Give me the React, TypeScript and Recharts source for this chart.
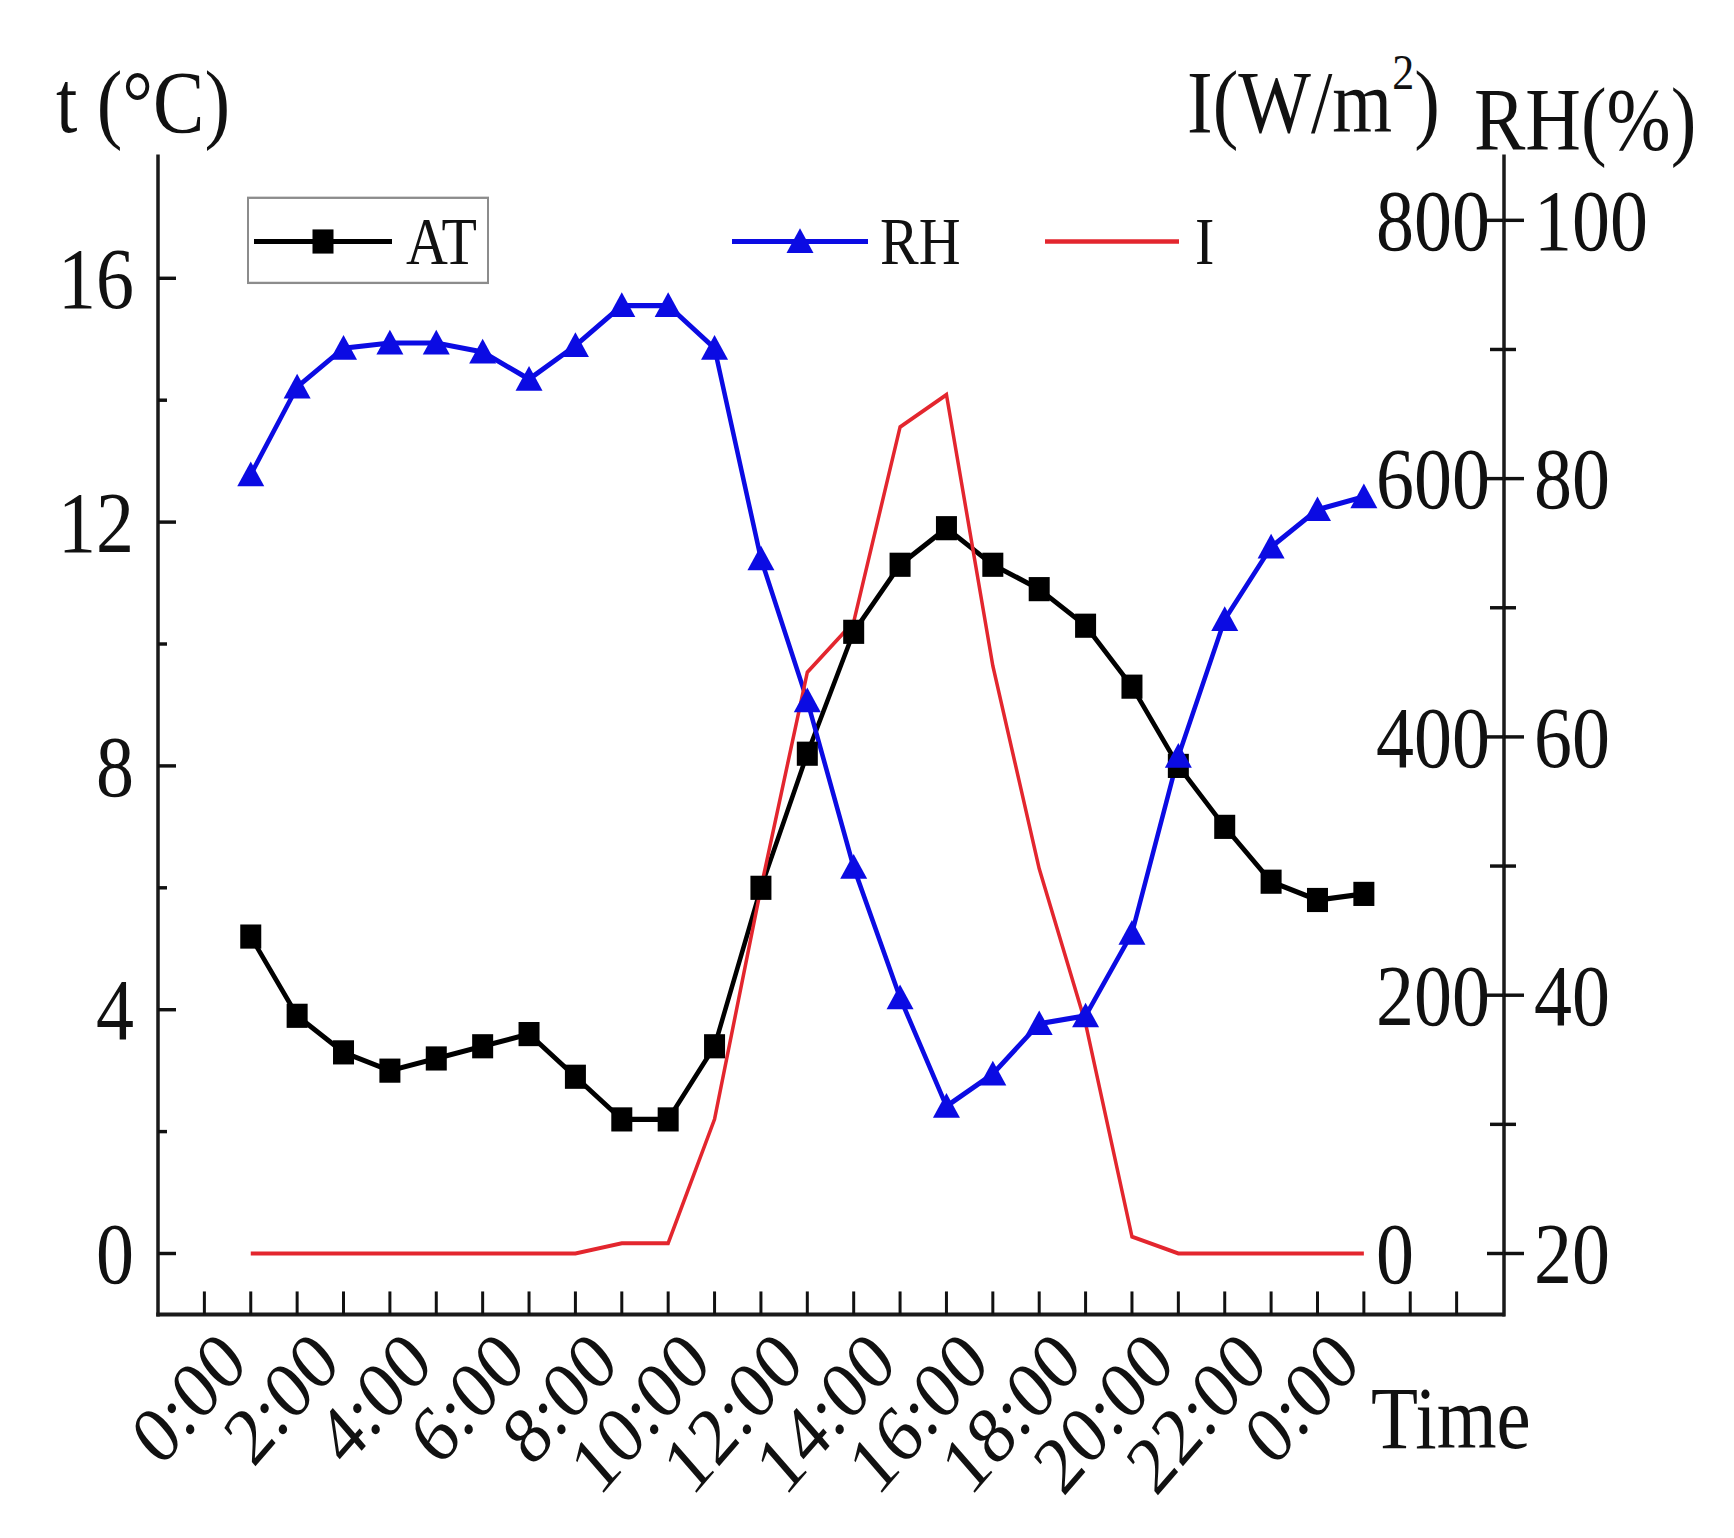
import React from 'react';
import { LineChart, Line, XAxis, YAxis, Legend, Label } from 'recharts';

// hourly readings, 0:00 -> next day 0:00
const HOURS = [0, 1, 2, 3, 4, 5, 6, 7, 8, 9, 10, 11, 12, 13, 14, 15, 16, 17, 18, 19, 20, 21, 22, 23, 24];
const AT = [5.2, 3.9, 3.3, 3.0, 3.2, 3.4, 3.6, 2.9, 2.2, 2.2, 3.4, 6.0, 8.2, 10.2, 11.3, 11.9, 11.3, 10.9, 10.3, 9.3, 8.0, 7.0, 6.1, 5.8, 5.9];
const RH = [80.3, 87.1, 90.1, 90.5, 90.5, 89.8, 87.7, 90.3, 93.4, 93.4, 90.1, 73.8, 62.8, 49.9, 39.8, 31.4, 33.9, 37.8, 38.4, 44.8, 58.5, 69.1, 74.7, 77.6, 78.6];
const IRR = [0, 0, 0, 0, 0, 0, 0, 0, 8, 8, 104, 283, 450, 489, 640, 665, 455, 298, 178, 13, 0, 0, 0, 0, 0];

const X_TICKS = [-1, 0, 1, 2, 3, 4, 5, 6, 7, 8, 9, 10, 11, 12, 13, 14, 15, 16, 17, 18, 19, 20, 21, 22, 23, 24, 25, 26];
const TIME_LABEL_HOURS = [0, 2, 4, 6, 8, 10, 12, 14, 16, 18, 20, 22, 24];
const TIME_LABELS = ['0:00', '2:00', '4:00', '6:00', '8:00', '10:00', '12:00', '14:00', '16:00', '18:00', '20:00', '22:00', '0:00'];

const T_TICKS = [0, 2, 4, 6, 8, 10, 12, 14, 16];
const T_LABELED = [0, 4, 8, 12, 16];
const I_TICKS = [0, 100, 200, 300, 400, 500, 600, 700, 800];
const I_LABELED = [0, 200, 400, 600, 800];
const RH_TICKS = [20, 30, 40, 50, 60, 70, 80, 90, 100];
const RH_LABELED = [20, 40, 60, 80, 100];

const rows = HOURS.map((h, i) => ({ hour: h, at: AT[i], rh: RH[i], irr: IRR[i] }));

const FONT = '"Liberation Serif", "Times New Roman", serif';
const INK = '#111';
const BLUE = '#0b0be3';
const RED = '#e3262e';
const STRETCH = 1.15; // the figure is a bit taller than wide

const axisLine = { stroke: '#1a1a1a', strokeWidth: 3.5, strokeLinecap: 'square' as const };

function TTick(props: any) {
  const { x, y, payload } = props;
  const v = payload.value;
  const major = T_LABELED.includes(v);
  return (
    <g>
      <line x1={x} y1={y} x2={x + (major ? 18 : 9)} y2={y} stroke={INK} strokeWidth={3} />
      {major && (
        <text x={x - 24} y={y} dy="0.34em" textAnchor="end" fontSize={76} fontFamily={FONT} fill={INK}>
          {v}
        </text>
      )}
    </g>
  );
}

function ITick(props: any) {
  const { x, y, payload } = props;
  const v = payload.value;
  const major = I_LABELED.includes(v);
  return (
    <g>
      <line x1={x - (major ? 16 : 13)} y1={y} x2={x} y2={y} stroke={INK} strokeWidth={3} />
      {major && (
        <text x={x - 127} y={y} dy="0.34em" textAnchor="start" fontSize={76} fontFamily={FONT} fill={INK}>
          {v}
        </text>
      )}
    </g>
  );
}

function RHTick(props: any) {
  const { x, y, payload } = props;
  const v = payload.value;
  const major = RH_LABELED.includes(v);
  return (
    <g>
      <line x1={x} y1={y} x2={x + (major ? 20 : 12)} y2={y} stroke={INK} strokeWidth={3} />
      {major && (
        <text x={x + 30} y={y} dy="0.34em" textAnchor="start" fontSize={76} fontFamily={FONT} fill={INK}>
          {v}
        </text>
      )}
    </g>
  );
}

function XTick(props: any) {
  const { x, y, payload } = props;
  const idx = TIME_LABEL_HOURS.indexOf(payload.value);
  return (
    <g>
      <line x1={x} y1={y} x2={x} y2={y - 20} stroke={INK} strokeWidth={3} />
      {idx >= 0 && (
        <text
          transform={`translate(${x - 1},${y + 45}) rotate(-45)`}
          textAnchor="end"
          fontSize={71}
          fontFamily={FONT}
          fill={INK}
        >
          {TIME_LABELS[idx]}
        </text>
      )}
    </g>
  );
}

const squareDot = (props: any) => {
  const { cx, cy, index } = props;
  return <rect key={`sq-${index}`} x={cx - 10.5} y={cy - 10.5} width={21} height={21} fill="#000" />;
};

const triangleDot = (props: any) => {
  const { cx, cy, index } = props;
  return (
    <polygon
      key={`tri-${index}`}
      points={`${cx},${cy - 11.5} ${cx - 13.5},${cy + 10} ${cx + 13.5},${cy + 10}`}
      fill={BLUE}
    />
  );
};

// where each legend entry sits
const LEGEND_SLOTS: Record<string, { x0: number; x1: number; tx: number }> = {
  at: { x0: 254, x1: 392, tx: 406 },
  rh: { x0: 732, x1: 868, tx: 880 },
  irr: { x0: 1045, x1: 1179, tx: 1195 },
};
const LEGEND_Y = 210;

function renderLegend(props: any) {
  const items = props.payload || [];
  return (
    <svg width={1734} height={300} style={{ display: 'block' }}>
      <rect x={248} y={172} width={240} height={74} fill="none" stroke="#8c8c8c" strokeWidth={2} />
      {items.map((entry: any) => {
        const slot = LEGEND_SLOTS[entry.dataKey];
        if (!slot) return null;
        const mid = (slot.x0 + slot.x1) / 2;
        return (
          <g key={entry.dataKey}>
            <line x1={slot.x0} y1={LEGEND_Y} x2={slot.x1} y2={LEGEND_Y} stroke={entry.color} strokeWidth={entry.type === 'line' ? 4 : 4.5} />
            {entry.type === 'square' && <rect x={mid - 10.5} y={LEGEND_Y - 10.5} width={21} height={21} fill={entry.color} />}
            {entry.type === 'triangle' && (
              <polygon
                points={`${mid},${LEGEND_Y - 11.5} ${mid - 13.5},${LEGEND_Y + 10} ${mid + 13.5},${LEGEND_Y + 10}`}
                fill={entry.color}
              />
            )}
            <text x={slot.tx} y={LEGEND_Y} dy="0.34em" fontSize={58} fontFamily={FONT} fill={INK}>
              {entry.value}
            </text>
          </g>
        );
      })}
    </svg>
  );
}

export default function App() {
  return (
    <div
      style={{
        position: 'absolute',
        left: 0,
        top: 0,
        width: 1734,
        height: 1337,
        background: '#fff',
        fontFamily: FONT,
        transform: `scaleY(${STRETCH})`,
        transformOrigin: '0 0',
      }}
    >
      <LineChart width={1734} height={1337} data={rows} margin={{ top: 136, right: 0, bottom: 0, left: 0 }}>
        <XAxis
          xAxisId="b"
          dataKey="hour"
          type="number"
          domain={[-2, 27]}
          ticks={X_TICKS}
          interval={0}
          allowDataOverflow
          height={194}
          tickSize={0}
          tickMargin={0}
          tickLine={false}
          axisLine={axisLine}
          tick={(p: any) => <XTick {...p} />}
        >
          <Label
            content={() => (
              <text x={1371} y={1259} fontSize={77} fontFamily={FONT} fill={INK}>
                Time
              </text>
            )}
          />
        </XAxis>
        <XAxis
          xAxisId="top"
          orientation="top"
          type="number"
          domain={[-2, 27]}
          height={0}
          tick={false}
          tickLine={false}
          axisLine={axisLine}
        />
        <YAxis
          yAxisId="t"
          type="number"
          domain={[-1, 18]}
          ticks={T_TICKS}
          interval={0}
          allowDataOverflow
          width={158}
          tickSize={0}
          tickMargin={0}
          tickLine={false}
          axisLine={axisLine}
          tick={(p: any) => <TTick {...p} />}
        >
          <Label
            content={() => (
              <text x={56} y={115} fontSize={77} fontFamily={FONT} fill={INK}>
                t (°C)
              </text>
            )}
          />
        </YAxis>
        <YAxis
          yAxisId="i"
          orientation="right"
          type="number"
          domain={[-47.2, 849.5]}
          ticks={I_TICKS}
          interval={0}
          allowDataOverflow
          width={1}
          tickSize={0}
          tickMargin={0}
          tickLine={false}
          axisLine={false}
          tick={(p: any) => <ITick {...p} />}
        >
          <Label
            content={() => (
              <text x={1187} y={115} fontSize={77} fontFamily={FONT} fill={INK}>
                I(W/m
                <tspan fontSize={44} dy={-38}>2</tspan>
                <tspan dy={38}>)</tspan>
              </text>
            )}
          />
        </YAxis>
        <YAxis
          yAxisId="rh"
          orientation="right"
          type="number"
          domain={[15.28, 104.95]}
          ticks={RH_TICKS}
          interval={0}
          allowDataOverflow
          width={230}
          tickSize={0}
          tickMargin={0}
          tickLine={false}
          axisLine={axisLine}
          tick={(p: any) => <RHTick {...p} />}
        >
          <Label
            content={() => (
              <text x={1474} y={130} fontSize={77} fontFamily={FONT} fill={INK}>
                RH(%)
              </text>
            )}
          />
        </YAxis>
        <Legend
          layout="horizontal"
          verticalAlign="middle"
          align="center"
          content={renderLegend}
          wrapperStyle={{ position: 'absolute', left: 0, top: 0, width: 1734, height: 300 }}
        />
        <Line
          xAxisId="b"
          yAxisId="t"
          dataKey="at"
          name="AT"
          legendType="square"
          stroke="#000"
          strokeWidth={4.5}
          dot={squareDot}
          activeDot={false}
          isAnimationActive={false}
        />
        <Line
          xAxisId="b"
          yAxisId="rh"
          dataKey="rh"
          name="RH"
          legendType="triangle"
          stroke={BLUE}
          strokeWidth={4.5}
          dot={triangleDot}
          activeDot={false}
          isAnimationActive={false}
        />
        <Line
          xAxisId="b"
          yAxisId="i"
          dataKey="irr"
          name="I"
          legendType="line"
          stroke={RED}
          strokeWidth={3.5}
          dot={false}
          activeDot={false}
          isAnimationActive={false}
        />
      </LineChart>
    </div>
  );
}
